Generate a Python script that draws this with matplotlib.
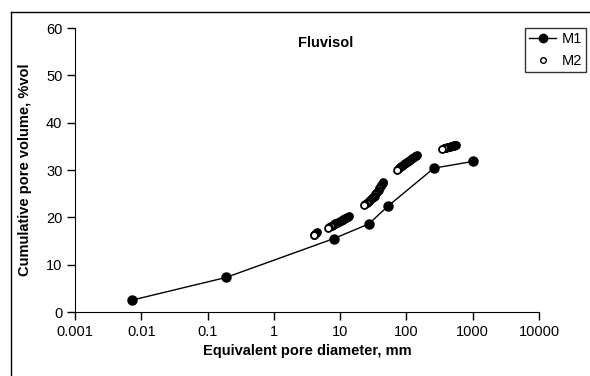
import numpy as np
import matplotlib
matplotlib.use("Agg")
from matplotlib import pyplot as plt
from matplotlib.lines import Line2D

plt.rcParams['font.family'] = ['Liberation Sans', 'DejaVu Sans']

# M1 : courbe mesuree (points relies)
m1_d = [0.0072, 0.19, 8.0, 27, 52, 260, 1000]
m1_v = [2.5, 7.3, 15.5, 18.6, 22.3, 30.4, 31.8]

# M2 : points en grappes (tres serres), du plus gros au plus petit diametre
m2_d = [560, 545, 530, 515, 500, 485, 470, 455, 440, 425, 410, 395, 380,
        365, 350,
        145, 140, 135, 130, 126, 122, 118, 114, 110, 107, 103, 100, 96, 93,
        90, 87, 84, 81, 78, 75, 72,
        45, 44, 43, 42, 41, 40, 39, 38, 37, 36, 35, 34, 33, 32, 31, 30, 29,
        28, 27, 26, 25, 24, 23,
        13.8, 13.3, 12.8, 12.4, 12.0, 11.6, 11.2, 10.9, 10.5, 10.2, 9.9, 9.6,
        9.3, 9.0, 8.8, 8.5, 8.3, 8.0, 7.8, 7.5, 7.2, 6.9, 6.5,
        4.4, 4.3, 4.2, 4.1, 4.0]
m2_v = [35.3, 35.25, 35.2, 35.15, 35.1, 35.05, 35.0, 34.95, 34.9, 34.85,
        34.8, 34.7, 34.6, 34.55, 34.5,
        33.2, 33.05, 32.9, 32.75, 32.6, 32.45, 32.3, 32.15, 32.0, 31.85, 31.7,
        31.55, 31.4, 31.25, 31.1, 30.95, 30.8, 30.6, 30.4, 30.2, 30.0,
        27.4, 27.2, 27.0, 26.8, 26.6, 26.35, 26.1, 25.85, 25.6, 25.35, 25.1,
        24.85, 24.6, 24.4, 24.2, 24.0, 23.8, 23.6, 23.4, 23.2, 23.0, 22.8,
        22.6,
        20.3, 20.15, 20.0, 19.9, 19.8, 19.7, 19.6, 19.5, 19.4, 19.3, 19.2,
        19.1, 19.0, 18.9, 18.8, 18.7, 18.6, 18.5, 18.4, 18.25, 18.1, 17.95,
        17.8,
        16.8, 16.65, 16.5, 16.35, 16.2]

xticks = [0.001, 0.01, 0.1, 1, 10, 100, 1000, 10000]
xticklabels = ["0.001", "0.01", "0.1", "1", "10", "100", "1000", "10000"]

fig = plt.figure(figsize=(5.9, 3.76), dpi=100)
ax = fig.add_axes([75/590, 1-312/376, (539-75)/590, (312-28)/376])

ax.plot(m2_d, m2_v, 'o', ms=5, mfc='white', mec='black', mew=1.3, zorder=3)
ax.plot(m1_d, m1_v, '-o', color='black', lw=1, ms=6.5, zorder=4)

ax.set_xscale('log')
ax.set_xlim(0.001, 10000)
ax.set_ylim(0, 60)
ax.set_xticks(xticks)
ax.set_xticklabels(xticklabels)
ax.set_yticks(range(0, 61, 10))
ax.minorticks_off()
ax.tick_params(direction='out', length=6, width=1, labelsize=10.5, pad=3)
for s in ['top', 'right']:
    ax.spines[s].set_visible(False)

ax.set_xlabel("Equivalent pore diameter, mm", fontsize=10.5, fontweight='bold', labelpad=4)
ax.set_ylabel("Cumulative pore volume, %vol", fontsize=10.5, fontweight='bold', labelpad=10)
ax.text(0.54, 0.948, "Fluvisol", transform=ax.transAxes, ha='center', va='center',
        fontsize=10.5, fontweight='bold')

handles = [Line2D([], [], color='black', marker='o', ms=6, lw=1),
           Line2D([], [], color='black', marker='o', ms=4, mfc='white', lw=0)]
leg = fig.legend(handles, ["M1", "M2"], loc='upper left',
                 bbox_to_anchor=(525/590, 1-28/376), frameon=True, fancybox=False,
                 edgecolor='black', fontsize=10.5, handlelength=1.8, borderpad=0.3,
                 labelspacing=0.5, handletextpad=0.4, borderaxespad=0)
leg.get_frame().set_linewidth(1)

# cadre du graphique
fig.add_artist(Line2D([11/590, 11/590], [0, 1-12/376], color='black', lw=1))
fig.add_artist(Line2D([11/590, 1], [1-12/376, 1-12/376], color='black', lw=1))

fig.savefig("out.png", dpi=100)
